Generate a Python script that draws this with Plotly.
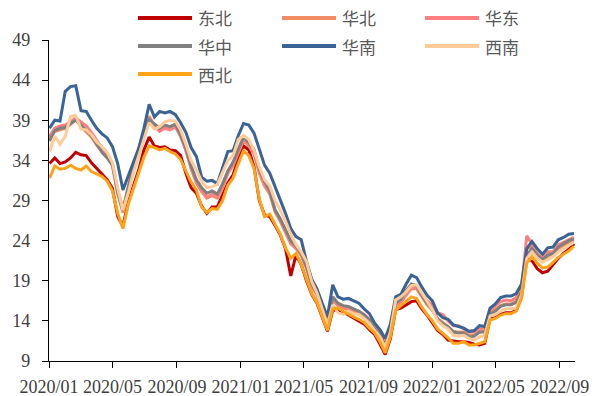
import pandas as pd
import plotly.graph_objects as go

# ---------------- data ----------------
dates = pd.date_range("2020-01-02", periods=101, freq="10D")

names = ["东北", "华北", "华东", "华中", "华南", "西南", "西北"]
colors = ["#C00000", "#F28C66", "#FF8080", "#808080", "#3A6396", "#FFCC99", "#FFA31A"]

dongbei = [33.6,34.3,33.6,33.8,34.3,35.0,34.7,34.6,33.7,33.0,
           32.3,31.6,30.5,27.0,25.8,28.8,30.8,32.8,35.3,36.9,
           35.8,35.6,35.7,35.3,35.2,34.6,32.4,30.6,29.9,28.3,
           27.4,28.2,28.2,29.6,31.2,32.2,34.2,35.8,35.3,33.2,
           29.0,27.2,27.0,25.9,24.7,23.0,19.6,22.2,21.0,19.0,
           17.3,16.2,14.4,12.7,15.3,15.4,15.1,14.7,14.3,14.0,
           13.6,12.9,12.3,11.1,9.8,11.8,15.4,15.6,16.0,16.4,
           16.5,15.5,14.7,13.8,12.8,12.3,11.6,11.5,11.4,11.4,
           11.3,11.1,11.0,11.2,14.3,14.4,14.8,15.0,15.0,15.3,
           17.0,21.8,21.5,20.5,20.0,20.2,21.0,21.8,22.4,22.9,
           23.6]
huabei = [36.8,37.6,37.8,38.0,38.5,39.1,38.2,37.6,36.9,35.9,
          35.1,34.4,33.3,29.8,27.5,30.2,32.9,35.0,37.0,39.5,
          38.3,37.8,38.2,38.0,38.3,37.0,35.3,33.0,31.2,30.1,
          29.3,29.6,29.3,30.6,32.4,33.4,35.0,36.5,35.8,34.8,
          32.4,30.8,29.8,27.6,26.4,25.1,23.6,23.0,22.1,20.5,
          18.3,17.2,15.3,13.6,16.6,15.9,15.6,15.4,15.2,15.0,
          14.5,13.9,12.9,12.0,10.8,12.6,15.8,16.3,17.2,18.0,
          18.0,17.0,16.0,15.3,14.3,13.8,13.3,12.7,12.6,12.6,
          12.2,12.2,12.6,12.7,15.0,15.4,15.9,16.1,16.1,16.4,
          17.6,23.0,23.2,22.0,21.4,22.0,22.2,23.0,23.4,23.8,
          24.0]
huadong = [37.0,38.0,38.3,38.4,38.8,39.3,38.8,38.3,37.5,36.5,
           35.5,34.6,33.6,30.3,28.0,30.4,33.0,35.2,37.3,39.3,
           38.2,37.6,38.0,37.8,38.2,37.0,35.2,33.0,31.3,30.2,
           29.4,29.8,29.4,30.8,32.5,33.5,35.2,36.6,36.0,35.0,
           32.6,31.0,30.0,27.8,26.7,25.3,23.8,23.2,22.4,20.8,
           18.6,17.4,15.6,13.9,16.8,16.0,15.8,15.6,15.4,15.2,
           14.8,14.2,13.2,12.4,11.2,12.9,16.0,16.5,17.4,18.2,
           18.2,17.3,16.5,16.0,15.0,14.8,14.0,13.4,13.4,13.0,
           12.6,12.6,13.0,13.0,15.3,15.9,16.4,16.6,16.5,16.9,
           18.0,24.6,23.6,22.4,21.8,22.6,22.6,23.5,23.8,24.2,
           24.4]
huazhong = [36.4,37.7,38.0,38.1,38.6,39.0,38.4,37.8,37.1,36.0,
            35.0,34.3,33.4,30.0,27.8,30.7,33.3,35.4,37.5,39.1,
            38.6,38.0,38.4,38.2,38.5,37.2,35.5,33.3,31.6,30.6,
            29.9,30.2,29.8,31.1,32.7,33.8,35.4,36.9,36.2,35.3,
            32.9,31.4,30.2,27.8,26.7,25.4,24.0,23.3,22.4,20.8,
            18.6,17.4,15.5,13.8,17.0,16.2,15.9,15.8,15.5,15.2,
            14.7,14.1,13.0,12.2,11.0,12.8,16.2,16.7,17.8,18.6,
            18.4,17.2,16.2,15.5,14.2,13.6,13.3,12.6,12.5,12.5,
            12.0,12.1,12.6,12.6,14.8,15.2,15.8,16.0,16.0,16.3,
            17.6,22.2,23.0,22.2,21.6,22.2,22.4,23.2,23.6,24.0,
            24.2]
huanan = [38.0,39.0,38.9,42.6,43.2,43.3,40.2,40.1,39.0,38.0,
          37.3,36.8,35.7,33.6,30.3,32.0,33.8,35.5,38.0,41.0,
          39.4,40.1,39.9,40.1,39.7,38.7,37.5,35.6,34.5,31.9,
          31.4,31.5,31.1,33.0,35.1,35.2,37.1,38.6,38.4,37.4,
          35.5,33.4,32.4,30.8,29.1,27.4,25.5,24.5,24.1,21.4,
          19.2,18.0,16.2,14.5,18.5,17.0,16.7,16.8,16.5,16.2,
          15.5,14.9,13.7,12.9,11.8,13.6,17.0,17.3,18.6,19.7,
          19.4,18.2,17.2,16.5,15.0,14.4,14.2,13.5,13.3,13.1,
          12.7,12.8,13.4,13.3,15.6,16.1,16.9,17.1,17.1,17.4,
          18.6,23.0,23.9,23.0,22.3,23.1,23.2,24.1,24.4,24.8,
          24.9]
xinan = [35.1,37.0,36.0,37.0,39.5,39.6,37.9,37.8,37.2,36.3,
         35.7,35.0,33.7,30.5,27.8,29.9,32.5,34.6,36.8,38.7,
         37.9,38.2,38.8,39.0,38.9,37.8,36.0,34.0,32.8,31.4,
         30.6,30.7,31.0,32.5,34.0,34.6,36.6,37.1,36.6,35.2,
         33.2,31.6,30.8,29.0,27.8,26.4,24.8,23.5,22.6,21.4,
         18.9,17.5,15.4,13.5,16.0,15.0,14.8,15.2,14.9,14.8,
         14.3,13.7,12.8,12.0,10.7,12.6,16.6,17.0,17.6,18.4,
         18.5,17.5,16.4,15.4,14.0,13.4,13.0,12.2,12.1,12.2,
         11.8,11.6,12.0,12.2,14.6,14.8,15.2,15.5,15.5,15.6,
         17.2,21.8,22.6,21.8,21.3,21.6,22.0,22.6,23.0,23.4,
         23.8]
xibei = [31.8,33.3,32.9,33.0,33.4,33.0,32.8,33.3,32.6,32.3,
         32.0,31.4,30.2,27.4,25.5,28.5,30.5,32.4,34.4,35.8,
         35.6,35.3,35.5,35.1,34.8,34.1,32.6,31.3,30.3,28.2,
         27.5,28.0,27.9,29.0,30.9,31.8,33.6,35.2,34.6,33.0,
         29.2,27.0,27.3,26.0,24.8,23.1,21.8,22.4,21.0,19.2,
         17.4,16.3,14.5,12.8,15.5,15.6,15.2,14.8,14.5,14.2,
         13.8,13.1,12.5,11.4,10.0,12.0,15.3,15.9,16.5,17.0,
         16.8,15.7,14.8,14.0,13.0,12.5,11.9,11.2,11.2,11.4,
         11.0,11.0,11.2,11.4,14.1,14.3,14.7,14.9,14.9,15.2,
         16.8,21.2,22.0,21.2,20.6,20.7,21.3,21.9,22.3,22.7,
         23.3]

series = [dongbei, huabei, huadong, huazhong, huanan, xinan, xibei]

y_ticks = [9, 14, 19, 24, 29, 34, 39, 44, 49]
x_tick_dates = ["2020-01-01", "2020-05-01", "2020-09-01", "2021-01-01", "2021-05-01",
                "2021-09-01", "2022-01-01", "2022-05-01", "2022-09-01"]
x_tick_labels = ["2020/01", "2020/05", "2020/09", "2021/01", "2021/05",
                 "2021/09", "2022/01", "2022/05", "2022/09"]

# ---------------- layout constants ----------------
W, H = 598, 396
ML, MR, MT, MB = 49, 23, 40, 35
PW, PH = W - ML - MR, H - MT - MB


def px2x(px):
    return (px - ML) / PW


def px2y(py):
    return (H - MB - py) / PH


fig = go.Figure()
for name, vals, col in zip(names, series, colors):
    fig.add_trace(go.Scatter(x=dates, y=vals, mode="lines", name=name,
                             line=dict(color=col, width=3), showlegend=False))

# legend drawn manually (3 columns)
col_x = [138, 282, 425]
row_y = [18, 46, 74]
for k, (name, col) in enumerate(zip(names, colors)):
    cx = col_x[k % 3]
    ry = row_y[k // 3]
    fig.add_shape(type="line", xref="paper", yref="paper",
                  x0=px2x(cx), x1=px2x(cx + 54), y0=px2y(ry), y1=px2y(ry),
                  line=dict(color=col, width=4))
    fig.add_annotation(xref="paper", yref="paper", x=px2x(cx + 58), y=px2y(ry),
                       text=name, showarrow=False, xanchor="left", yanchor="middle",
                       font=dict(family="Noto Sans CJK SC", size=17, color="#595959"))

serif = "Liberation Serif"
tick_font = dict(family=serif, size=18, color="#404040")
fig.update_layout(
    width=W, height=H,
    font=dict(family=serif, size=18, color="#404040"),
    margin=dict(l=ML, r=MR, t=MT, b=MB, autoexpand=False),
    paper_bgcolor="white", plot_bgcolor="white",
    showlegend=False,
    xaxis=dict(type="date", range=["2020-01-01", "2022-09-30"], automargin=False,
               tickmode="array", tickvals=x_tick_dates, ticktext=x_tick_labels,
               showgrid=False, zeroline=False, showline=True, linecolor="black", linewidth=1.3,
               ticks="outside", ticklen=6, tickwidth=1.3, tickcolor="black",
               tickfont=tick_font, ticklabelstandoff=3),
    yaxis=dict(range=[9, 49], tickmode="array", tickvals=y_ticks, automargin=False,
               showgrid=False, zeroline=False, showline=True, linecolor="black", linewidth=1.3,
               ticks="outside", ticklen=6, tickwidth=1.3, tickcolor="black",
               tickfont=tick_font, ticklabelstandoff=8),
)

fig.write_html("out.html")
